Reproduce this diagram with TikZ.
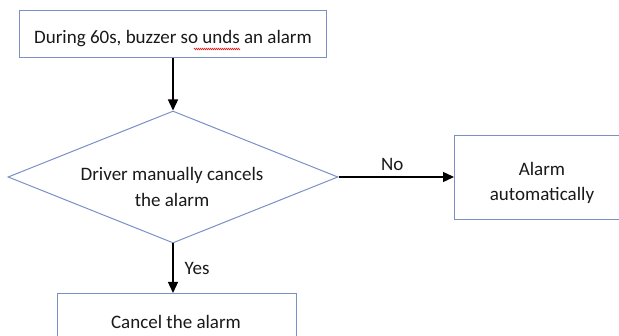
\documentclass[tikz,border=0pt]{standalone}
\usepackage{fontspec}
\setmainfont{Carlito}
\usetikzlibrary{arrows.meta,shapes.geometric,decorations.pathmorphing}
\definecolor{boxline}{RGB}{124,144,200}
\definecolor{spell}{RGB}{220,40,40}
\tikzset{
  flowbox/.style={draw=boxline, line width=1pt, fill=white, inner sep=0pt},
  label text/.style={font=\fontsize{19}{25.5}\selectfont, text=black!90, align=center, inner sep=0pt},
  flow/.style={line width=1.3pt, -{Triangle[length=11pt,width=10pt]}},
}
\begin{document}
\begin{tikzpicture}[x=1pt,y=-1pt]
  \useasboundingbox (0,0) rectangle (619,336);
  \clip (0,0) rectangle (619,336);

  % process boxes and decision
  \node[flowbox, minimum width=307pt, minimum height=47pt] (start) at (172.5,34.5) {};
  \node[flowbox, shape=diamond, minimum width=330pt, minimum height=132pt] (dec) at (173,177) {};
  \node[flowbox, minimum width=239pt, minimum height=60pt, anchor=north west] (cancel) at (57,293) {};
  \node[flowbox, minimum width=200pt, minimum height=84pt, anchor=north west] (auto) at (454,135) {};

  % texts
  \node[label text] (t1) at (173,39) {During 60s, buzzer so unds an alarm};
  \node[label text] (t2) at (172,187) {Driver manually cancels\\the alarm};
  \node[label text] (t3) at (176,322) {Cancel the alarm};
  \node[label text] (t4) at (542,183) {Alarm\\automatically};

  % spelling mark under the split word
  \draw[spell, line width=0.6pt, decoration={zigzag, segment length=2pt, amplitude=0.8pt}, decorate]
    (194,49) -- (240,49);

  % connectors
  \draw[flow] (start.south -| dec.north) -- (dec.north);
  \draw[flow] (dec.south) -- (dec.south |- cancel.north) node[midway, right=11pt, label text] (yes) {Yes};
  \draw[flow] (dec.east) -- (dec.east -| auto.west) node[midway, above=6pt, xshift=-4pt, label text] (no) {No};
\end{tikzpicture}
\end{document}
